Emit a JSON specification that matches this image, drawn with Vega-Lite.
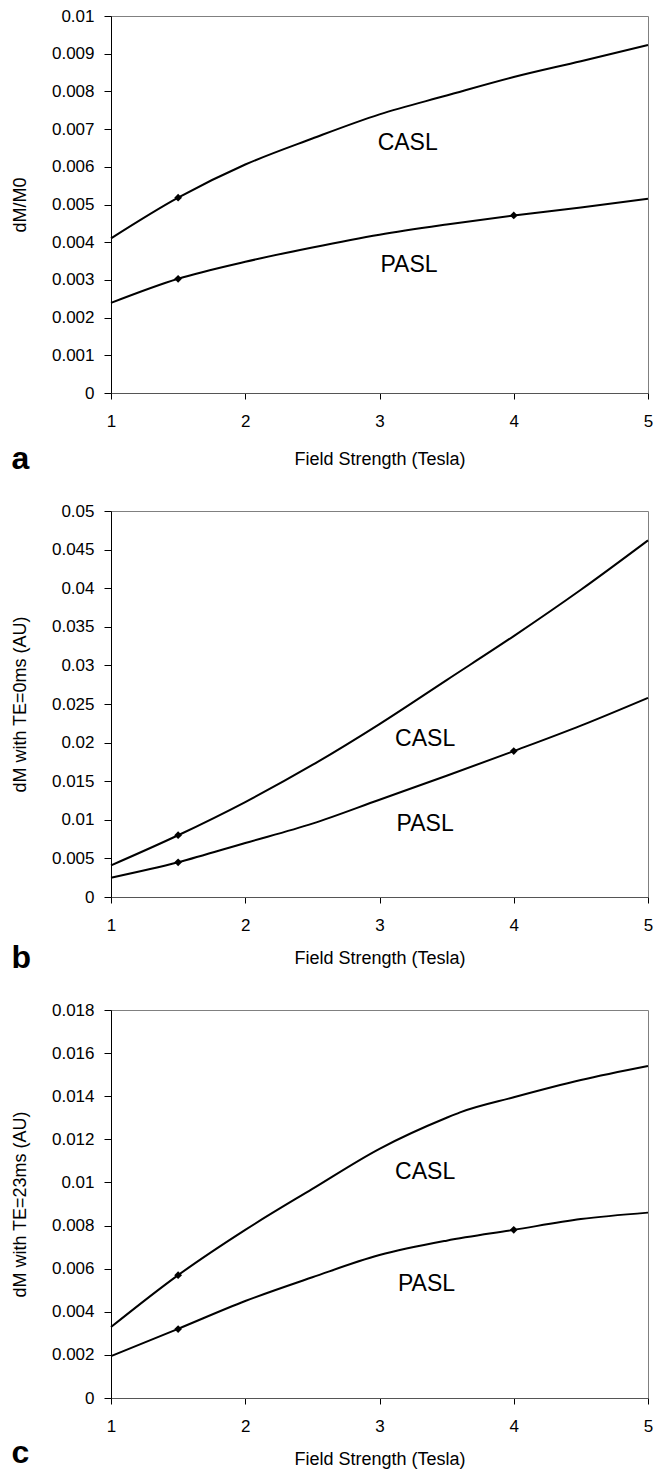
{
  "$schema": "https://vega.github.io/schema/vega-lite/v6.json",
  "background": "white",
  "padding": {"left": 10, "top": 6, "right": 12, "bottom": 0},
  "spacing": 25,
  "config": {
    "font": "Liberation Sans",
    "view": {"stroke": "#808080", "strokeWidth": 1},
    "axis": {
      "grid": false,
      "labelFont": "Liberation Sans",
      "titleFont": "Liberation Sans",
      "labelFontSize": 17,
      "titleFontSize": 18,
      "titleFontWeight": "normal",
      "labelColor": "black",
      "titleColor": "black",
      "tickColor": "black",
      "domainColor": "black",
      "labelFlush": false
    },
    "axisX": {"tickSize": 6, "labelPadding": 14, "titlePadding": 16, "domainColor": "#555555"},
    "axisY": {"tickSize": 7, "labelPadding": 10, "titlePadding": 22},
    "title": {"font": "Liberation Sans", "fontSize": 32, "fontWeight": "bold", "color": "black"}
  },
  "datasets": {
    "a_curves": [
      {"x": 1, "y": 0.0041, "series": "CASL"},
      {"x": 1.5, "y": 0.00518, "series": "CASL"},
      {"x": 2, "y": 0.00606, "series": "CASL"},
      {"x": 2.5, "y": 0.00675, "series": "CASL"},
      {"x": 3, "y": 0.00739, "series": "CASL"},
      {"x": 3.5, "y": 0.00789, "series": "CASL"},
      {"x": 4, "y": 0.00838, "series": "CASL"},
      {"x": 4.5, "y": 0.0088, "series": "CASL"},
      {"x": 5, "y": 0.00923, "series": "CASL"},
      {"x": 1, "y": 0.00239, "series": "PASL"},
      {"x": 1.5, "y": 0.00303, "series": "PASL"},
      {"x": 2, "y": 0.00348, "series": "PASL"},
      {"x": 2.5, "y": 0.00386, "series": "PASL"},
      {"x": 3, "y": 0.0042, "series": "PASL"},
      {"x": 3.5, "y": 0.00447, "series": "PASL"},
      {"x": 4, "y": 0.00471, "series": "PASL"},
      {"x": 4.5, "y": 0.00492, "series": "PASL"},
      {"x": 5, "y": 0.00515, "series": "PASL"}
    ],
    "a_points": [
      {"x": 1.5, "y": 0.00518, "series": "CASL"},
      {"x": 1.5, "y": 0.00303, "series": "PASL"},
      {"x": 4, "y": 0.00471, "series": "PASL"}
    ],
    "a_labels": [
      {"x": 3.21, "y": 0.00664, "label": "CASL"},
      {"x": 3.22, "y": 0.0034, "label": "PASL"}
    ],
    "b_curves": [
      {"x": 1, "y": 0.0041, "series": "CASL"},
      {"x": 1.5, "y": 0.008, "series": "CASL"},
      {"x": 2, "y": 0.0123, "series": "CASL"},
      {"x": 2.5, "y": 0.0171, "series": "CASL"},
      {"x": 3, "y": 0.0224, "series": "CASL"},
      {"x": 3.5, "y": 0.0281, "series": "CASL"},
      {"x": 4, "y": 0.0338, "series": "CASL"},
      {"x": 4.5, "y": 0.0398, "series": "CASL"},
      {"x": 5, "y": 0.0462, "series": "CASL"},
      {"x": 1, "y": 0.0025, "series": "PASL"},
      {"x": 1.5, "y": 0.0045, "series": "PASL"},
      {"x": 2, "y": 0.007, "series": "PASL"},
      {"x": 2.5, "y": 0.0095, "series": "PASL"},
      {"x": 3, "y": 0.0126, "series": "PASL"},
      {"x": 3.5, "y": 0.0157, "series": "PASL"},
      {"x": 4, "y": 0.0189, "series": "PASL"},
      {"x": 4.5, "y": 0.0222, "series": "PASL"},
      {"x": 5, "y": 0.0258, "series": "PASL"}
    ],
    "b_points": [
      {"x": 1.5, "y": 0.008, "series": "CASL"},
      {"x": 1.5, "y": 0.0045, "series": "PASL"},
      {"x": 4, "y": 0.0189, "series": "PASL"}
    ],
    "b_labels": [
      {"x": 3.34, "y": 0.0205, "label": "CASL"},
      {"x": 3.34, "y": 0.0095, "label": "PASL"}
    ],
    "c_curves": [
      {"x": 1, "y": 0.00329, "series": "CASL"},
      {"x": 1.5, "y": 0.0057, "series": "CASL"},
      {"x": 2, "y": 0.0078, "series": "CASL"},
      {"x": 2.5, "y": 0.0097, "series": "CASL"},
      {"x": 3, "y": 0.01156, "series": "CASL"},
      {"x": 3.5, "y": 0.0130, "series": "CASL"},
      {"x": 3.6, "y": 0.01325, "series": "CASL"},
      {"x": 4, "y": 0.01395, "series": "CASL"},
      {"x": 4.5, "y": 0.01475, "series": "CASL"},
      {"x": 5, "y": 0.0154, "series": "CASL"},
      {"x": 1, "y": 0.00194, "series": "PASL"},
      {"x": 1.5, "y": 0.00321, "series": "PASL"},
      {"x": 2, "y": 0.0045, "series": "PASL"},
      {"x": 2.5, "y": 0.0056, "series": "PASL"},
      {"x": 3, "y": 0.00663, "series": "PASL"},
      {"x": 3.5, "y": 0.0073, "series": "PASL"},
      {"x": 4, "y": 0.0078, "series": "PASL"},
      {"x": 4.5, "y": 0.0083, "series": "PASL"},
      {"x": 5, "y": 0.0086, "series": "PASL"}
    ],
    "c_points": [
      {"x": 1.5, "y": 0.0057, "series": "CASL"},
      {"x": 1.5, "y": 0.0032, "series": "PASL"},
      {"x": 4, "y": 0.0078, "series": "PASL"}
    ],
    "c_labels": [
      {"x": 3.34, "y": 0.0105, "label": "CASL"},
      {"x": 3.35, "y": 0.0053, "label": "PASL"}
    ]
  },
  "vconcat": [
    {
      "width": 537,
      "height": 377,
      "title": {"text": "a", "orient": "bottom", "anchor": "start", "frame": "bounds", "offset": -24},
      "encoding": {
        "x": {"field": "x", "type": "quantitative", "scale": {"domain": [1, 5], "nice": false, "zero": false},
          "axis": {"values": [1, 2, 3, 4, 5], "format": "d", "title": "Field Strength (Tesla)", "titlePadding": 21, "labelOverlap": false}},
        "y": {"field": "y", "type": "quantitative", "scale": {"domain": [0, 0.01], "nice": false},
          "axis": {"values": [0, 0.001, 0.002, 0.003, 0.004, 0.005, 0.006, 0.007, 0.008, 0.009, 0.01], "tickCount": 11, "format": "~g", "title": "dM/M0", "labelOverlap": false, "labelSeparation": 0}}
      },
      "layer": [
        {
          "data": {"name": "a_curves"},
          "mark": {"type": "line", "color": "black", "strokeWidth": 2, "interpolate": "monotone"},
          "encoding": {"detail": {"field": "series"}}
        },
        {
          "data": {"name": "a_points"},
          "mark": {"type": "point", "shape": "diamond", "filled": true, "color": "black", "size": 60, "opacity": 1},
          "encoding": {}
        },
        {
          "data": {"name": "a_labels"},
          "mark": {"type": "text", "fontSize": 23, "color": "black", "align": "center", "baseline": "middle"},
          "encoding": {"text": {"field": "label"}}
        }
      ]
    },
    {
      "width": 537,
      "height": 386,
      "title": {"text": "b", "orient": "bottom", "anchor": "start", "frame": "bounds", "offset": -24},
      "encoding": {
        "x": {"field": "x", "type": "quantitative", "scale": {"domain": [1, 5], "nice": false, "zero": false},
          "axis": {"values": [1, 2, 3, 4, 5], "format": "d", "title": "Field Strength (Tesla)", "labelOverlap": false}},
        "y": {"field": "y", "type": "quantitative", "scale": {"domain": [0, 0.05], "nice": false},
          "axis": {"values": [0, 0.005, 0.01, 0.015, 0.02, 0.025, 0.03, 0.035, 0.04, 0.045, 0.05], "tickCount": 11, "format": "~g", "title": "dM with TE=0ms (AU)", "labelOverlap": false, "labelSeparation": 0}}
      },
      "layer": [
        {
          "data": {"name": "b_curves"},
          "mark": {"type": "line", "color": "black", "strokeWidth": 2, "interpolate": "monotone"},
          "encoding": {"detail": {"field": "series"}}
        },
        {
          "data": {"name": "b_points"},
          "mark": {"type": "point", "shape": "diamond", "filled": true, "color": "black", "size": 60, "opacity": 1},
          "encoding": {}
        },
        {
          "data": {"name": "b_labels"},
          "mark": {"type": "text", "fontSize": 23, "color": "black", "align": "center", "baseline": "middle"},
          "encoding": {"text": {"field": "label"}}
        }
      ]
    },
    {
      "width": 537,
      "height": 388,
      "title": {"text": "c", "orient": "bottom", "anchor": "start", "frame": "bounds", "offset": -30},
      "encoding": {
        "x": {"field": "x", "type": "quantitative", "scale": {"domain": [1, 5], "nice": false, "zero": false},
          "axis": {"values": [1, 2, 3, 4, 5], "format": "d", "title": "Field Strength (Tesla)", "labelOverlap": false}},
        "y": {"field": "y", "type": "quantitative", "scale": {"domain": [0, 0.018], "nice": false},
          "axis": {"values": [0, 0.002, 0.004, 0.006, 0.008, 0.01, 0.012, 0.014, 0.016, 0.018], "tickCount": 10, "format": "~g", "title": "dM with TE=23ms (AU)", "labelOverlap": false, "labelSeparation": 0}}
      },
      "layer": [
        {
          "data": {"name": "c_curves"},
          "mark": {"type": "line", "color": "black", "strokeWidth": 2, "interpolate": "monotone"},
          "encoding": {"detail": {"field": "series"}}
        },
        {
          "data": {"name": "c_points"},
          "mark": {"type": "point", "shape": "diamond", "filled": true, "color": "black", "size": 60, "opacity": 1},
          "encoding": {}
        },
        {
          "data": {"name": "c_labels"},
          "mark": {"type": "text", "fontSize": 23, "color": "black", "align": "center", "baseline": "middle"},
          "encoding": {"text": {"field": "label"}}
        }
      ]
    }
  ]
}
